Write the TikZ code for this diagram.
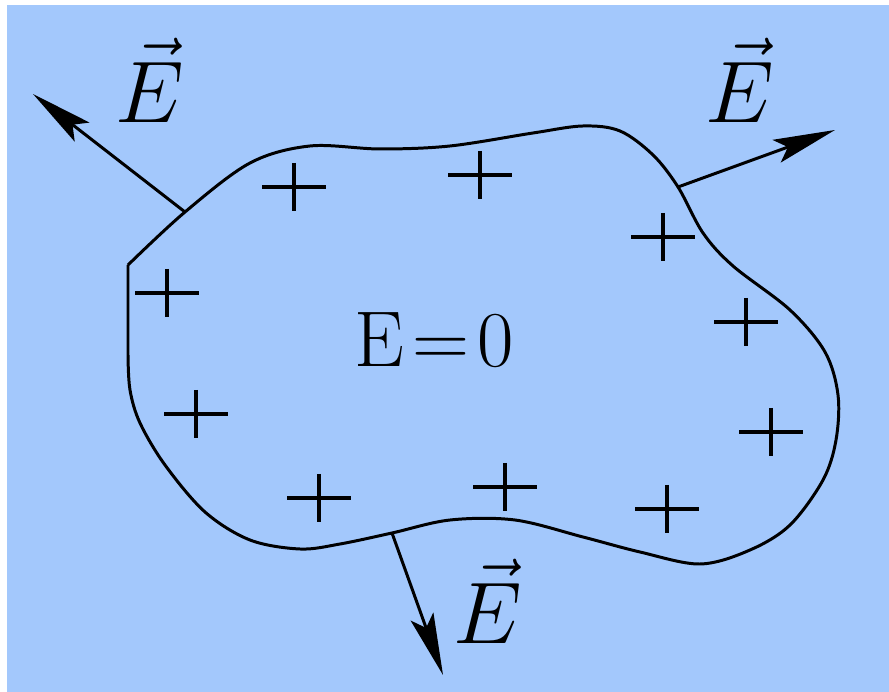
\documentclass[tikz,border=0pt]{standalone}
\usepackage{xcolor}
\usepackage{tikz}
\usetikzlibrary{arrows.meta, positioning}
\usepackage{amsmath,amssymb}

\definecolor{skyfill}{RGB}{163,200,252}

\begin{document}
\begin{tikzpicture}[
    x=0.01cm, y=-0.01cm,
    surface/.style={draw=black, line width=0.85pt, line join=round},
    field/.style={-{Stealth[length=6.2mm, width=2.4mm, inset=1.2mm]}, line width=0.85pt},
    charge/.style={line width=1.1pt},
    vlabel/.style={inner sep=0pt, font=\fontsize{23}{28}\selectfont},
    zlabel/.style={inner sep=0pt, font=\fontsize{22.5}{27}\selectfont}
]

% Background
\useasboundingbox (0,0) rectangle (889,692);
\fill[white] (0,0) rectangle (889,692);
\fill[skyfill] (7,5) rectangle (889,692);

% Conductor surface
\draw[surface] plot[smooth, tension=0.55] coordinates {
    (128,265) (185,212) (250,163) (310,146) (380,149) (450,146)
    (533,133) (583,126) (620,131) (653,155) (678,187) (703,233)
    (733,266) (790,310) (825,352) (838,395) (836,440) (823,480)
    (790,525) (750,550) (700,564) (640,552) (583,537) (515,520)
    (450,520) (392,533) (340,544) (300,549) (250,540) (205,512)
    (165,465) (140,423) (130,390) (128,355)}
    -- (128,265);

% Points where the field leaves the surface
\coordinate (leftfoot) at (185,212);
\coordinate (rightfoot) at (678,187);
\coordinate (bottomfoot) at (392,533);
\coordinate (lefttip) at (33,94);
\coordinate (righttip) at (835,130);
\coordinate (bottomtip) at (443,675);

% Field lines
\draw[field] (leftfoot) -- (lefttip);
\draw[field] (rightfoot) -- (righttip);
\draw[field] (bottomfoot) -- (bottomtip);

% Labels
\node[vlabel] (eleft) at (150,80) {$\vec{E}$};
\node[vlabel] (eright) at (740,80) {$\vec{E}$};
\node[vlabel] (ebottom) at (488,601) {$\vec{E}$};
\node[zlabel] (inside) at (434,340) {E\hspace{0.1em}=\hspace{0.1em}0};

% Surface charges
\foreach \px/\py in {294/187, 480/175, 663/237, 167/293, 746/322,
                     196/414, 771/432, 319/498, 505/487, 667/509}
    \draw[charge] (\px-32,\py) -- (\px+32,\py) (\px,\py-24) -- (\px,\py+24);

\end{tikzpicture}
\end{document}
